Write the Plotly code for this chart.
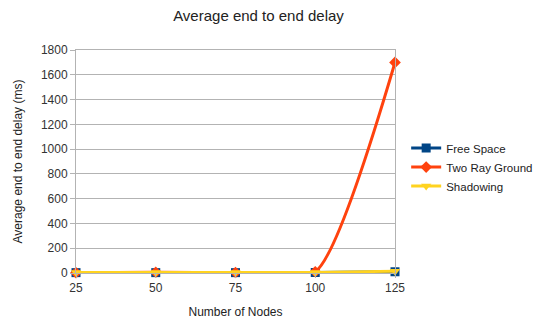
import plotly.graph_objects as go

nodes = [25, 50, 75, 100, 125]
free_space = [3, 3, 3, 4, 10]
two_ray_ground = [2, 6, 4, 10, 1700]
shadowing = [5, 5, 4, 5, 15]
y_ticks = [0, 200, 400, 600, 800, 1000, 1200, 1400, 1600, 1800]

font = "Liberation Sans"
W, H = 535, 311  # page body has an 8px margin
fig = go.Figure()
series = [
    ("Free Space", free_space, "#004586", "square"),
    ("Two Ray Ground", two_ray_ground, "#ff420e", "diamond"),
    ("Shadowing", shadowing, "#ffd320", "triangle-down"),
]
for name, vals, color, sym in series:
    fig.add_trace(go.Scatter(
        x=nodes, y=vals, name=name, mode="lines+markers",
        line=dict(color=color, width=3, shape="spline", smoothing=0.6),
        marker=dict(symbol=sym, size=9, color=color),
        cliponaxis=False,
    ))

fig.update_layout(
    width=W, height=H,
    margin=dict(l=68, r=148, t=42, b=46, autoexpand=False),
    paper_bgcolor="white", plot_bgcolor="white",
    font=dict(family=font, size=12, color="#333333"),
    title=dict(text="Average end to end delay", x=250.5 / W, xref="container",
               y=1 - 8 / H, yref="container", yanchor="middle",
               xanchor="center", font=dict(size=15, color="#222222")),
    showlegend=True,
    legend=dict(x=1.035, y=0.475, xanchor="left", yanchor="middle",
                font=dict(size=11.5, color="#222222"), tracegroupgap=0,
                itemwidth=30, bgcolor="rgba(0,0,0,0)"),
    xaxis=dict(range=[25, 125], tickvals=nodes, ticktext=[str(n) for n in nodes],
               showgrid=False, zeroline=False, showline=True, mirror=True,
               linecolor="#b3b3b3", linewidth=1, automargin=False,
               ticks="outside", ticklen=4, tickcolor="#b3b3b3",
               title=dict(text="Number of Nodes",
                          font=dict(size=12, color="#222222"))),
    yaxis=dict(range=[0, 1800], tickvals=y_ticks, showgrid=True,
               gridcolor="#b3b3b3", gridwidth=1, zeroline=False,
               showline=True, linecolor="#b3b3b3", mirror=True, automargin=False,
               ticks="outside", ticklen=5, tickcolor="#b3b3b3",
               title=dict(text="Average end to end delay (ms)",
                          font=dict(size=12, color="#222222"))),
)
fig.write_html("out.html")
